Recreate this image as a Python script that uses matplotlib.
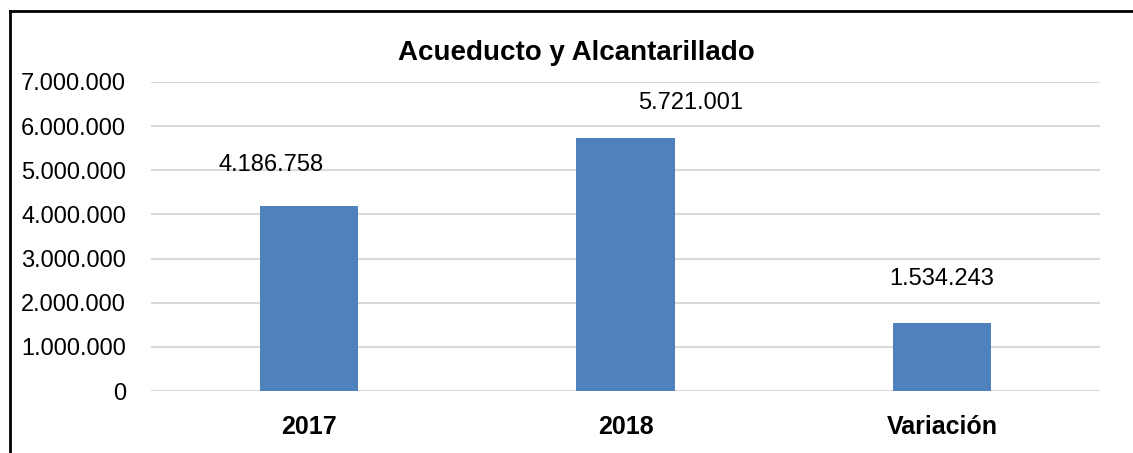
import matplotlib.pyplot as plt
from matplotlib.ticker import FuncFormatter
from matplotlib.lines import Line2D

# Data
categories = ["2017", "2018", "Variación"]
values = [4186758, 5721001, 1534243]
title = "Acueducto y Alcantarillado"

bar_color = "#4F81BD"
# label offsets (pixels) as placed in the original chart
label_dx = [-38, 65, 0]
label_dy = [41, 35, 44]


def fmt_thousands(v, pos=None):
    return "{:,.0f}".format(v).replace(",", ".")


plt.rcParams['font.family'] = ['Liberation Sans', 'DejaVu Sans']

fig = plt.figure(figsize=(11.33, 4.53), dpi=100)
ax = fig.add_axes([151 / 1133, 1 - 391 / 453, 949 / 1133, 309 / 453])

x = list(range(len(categories)))
bars = ax.bar(x, values, width=0.31, color=bar_color, zorder=3)

ax.set_xlim(-0.5, len(categories) - 0.5)
ax.set_ylim(0, 7000000)
ax.set_yticks(range(0, 7000001, 1000000))
ax.yaxis.set_major_formatter(FuncFormatter(fmt_thousands))
ax.grid(axis='y', color='#d9d9d9', linewidth=1.5, zorder=0)
for s in ax.spines.values():
    s.set_visible(False)
ax.tick_params(axis='y', length=0, pad=18, labelsize=17)
ax.tick_params(axis='x', length=0, pad=17, labelsize=18)
ax.set_xticks(x)
ax.set_xticklabels(categories, fontweight='bold')

# value labels above bars
for xi, v, dx, dy in zip(x, values, label_dx, label_dy):
    ax.annotate(fmt_thousands(v), (xi, v), xytext=(dx * 0.72, dy * 0.72),
                textcoords='offset points', ha='center', va='center', fontsize=17)

fig.text(576 / 1133, 1 - 53 / 453, title, ha='center', va='center',
         fontsize=20, fontweight='bold')

# chart frame: top and left edges only (cropped screenshot)
top = 1 - 11 / 453
left = 10 / 1133
fig.lines.append(Line2D([left, 1], [top, top], transform=fig.transFigure,
                        color='black', linewidth=2))
fig.lines.append(Line2D([left, left], [0, top], transform=fig.transFigure,
                        color='black', linewidth=2))

fig.savefig("out.png", dpi=100)
